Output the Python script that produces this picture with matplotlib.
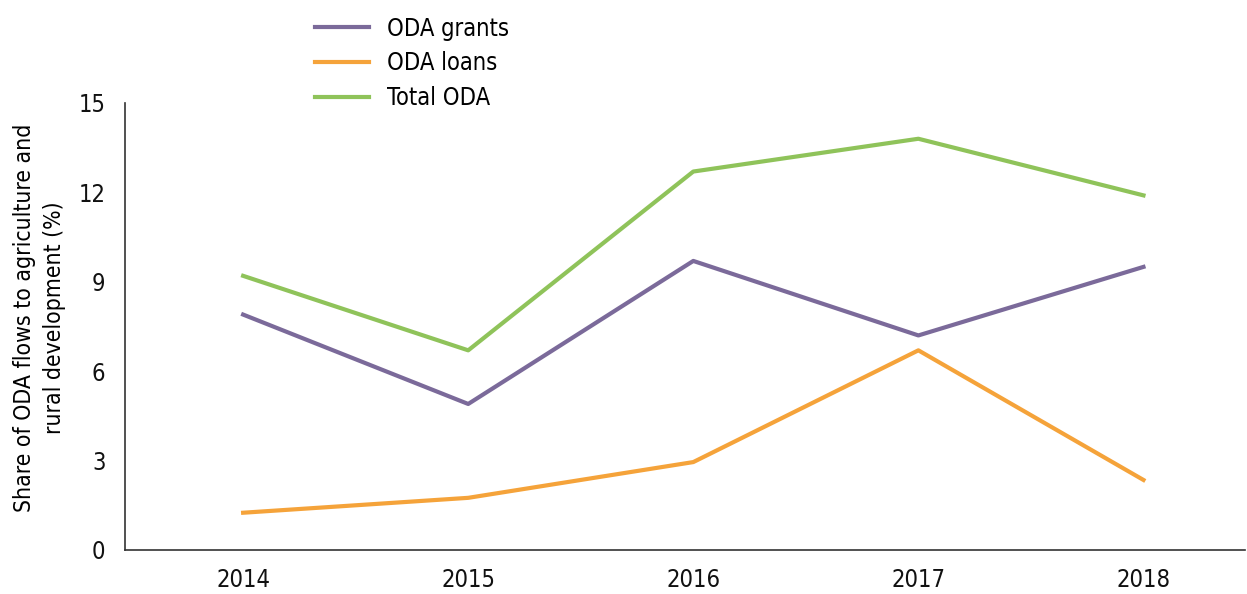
import matplotlib
matplotlib.use("Agg")
import matplotlib.pyplot as plt

plt.rcParams['font.family'] = ['DejaVu Sans']
plt.rcParams['font.stretch'] = 'condensed'

years = ["2014", "2015", "2016", "2017", "2018"]
oda_grants = [7.9, 4.9, 9.7, 7.2, 9.5]
oda_loans = [1.25, 1.75, 2.95, 6.7, 2.35]
total_oda = [9.2, 6.7, 12.7, 13.8, 11.9]

fig = plt.figure(figsize=(12.47, 5.94), dpi=100)
ax = fig.add_axes([0.1002, 0.0741, 0.898, 0.7525])

x = range(len(years))
ax.plot(x, oda_grants, color="#7b6a9a", lw=3, label="ODA grants")
ax.plot(x, oda_loans, color="#f5a33a", lw=3, label="ODA loans")
ax.plot(x, total_oda, color="#8fc35a", lw=3, label="Total ODA")

ax.set_xlim(-0.525, 4.45)
ax.set_ylim(0, 15)
ax.set_yticks([0, 3, 6, 9, 12, 15])
ax.set_xticks(list(x))
ax.set_xticklabels(years)
ax.tick_params(length=0, labelsize=17, colors="#111111")
ax.tick_params(axis="x", pad=13)
ax.tick_params(axis="y", pad=14)
for s in ["top", "right"]:
    ax.spines[s].set_visible(False)
for s in ["left", "bottom"]:
    ax.spines[s].set_color("#333333")
    ax.spines[s].set_linewidth(1.2)

ax.set_ylabel("Share of ODA flows to agriculture and\nrural development (%)",
              fontsize=16.5, linespacing=1.35)
ax.yaxis.set_label_coords(-0.053, 0.52)

ax.legend(loc="upper left", bbox_to_anchor=(0.2526, 0.972),
          bbox_transform=fig.transFigure, frameon=False, borderpad=0,
          borderaxespad=0, fontsize=17, handlelength=2.3,
          handletextpad=0.75, labelspacing=0.45)

fig.savefig("out.png", dpi=100)
